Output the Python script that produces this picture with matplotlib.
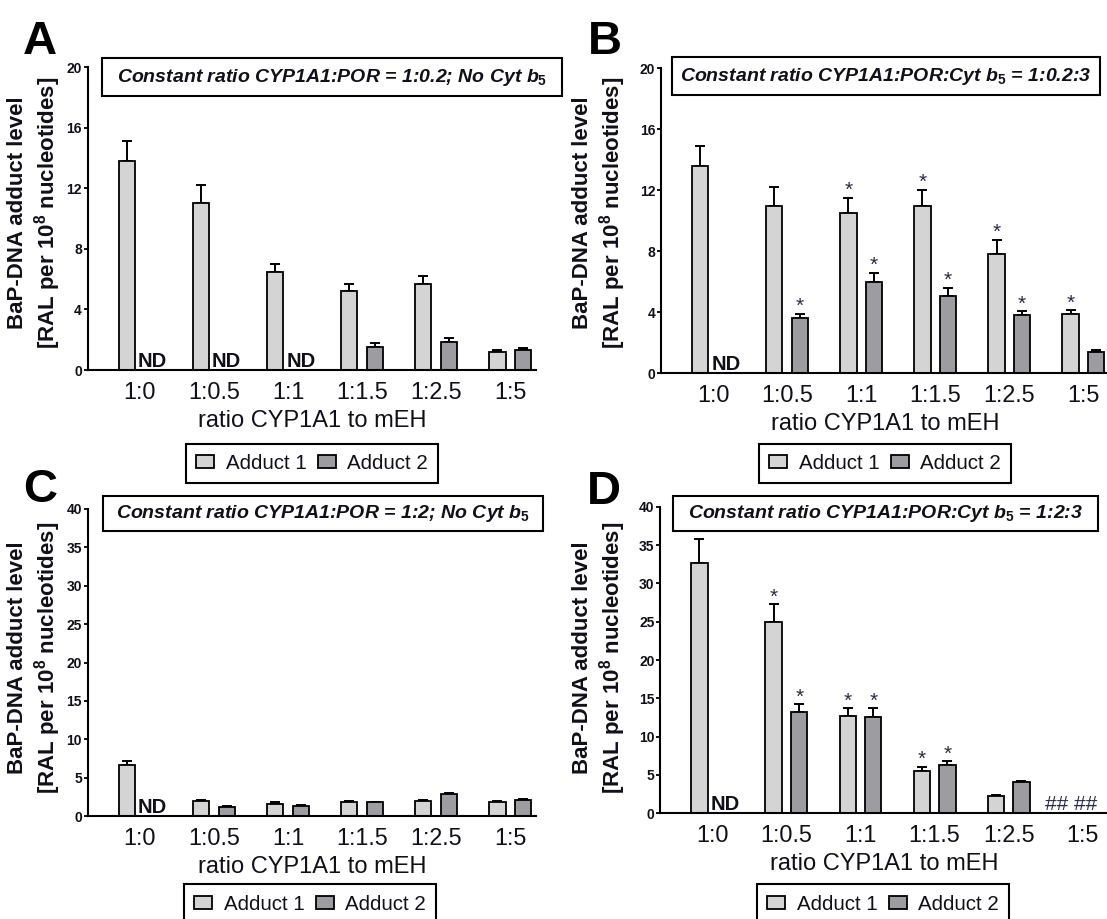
import numpy as np
import matplotlib
matplotlib.use("Agg")
import matplotlib.pyplot as plt
from matplotlib.patches import Rectangle

plt.rcParams['font.family'] = ['Liberation Sans', 'DejaVu Sans']
plt.rcParams['mathtext.fontset'] = 'custom'
plt.rcParams['mathtext.rm'] = 'Liberation Sans:bold'
plt.rcParams['mathtext.it'] = 'Liberation Sans:italic:bold'
plt.rcParams['mathtext.bf'] = 'Liberation Sans:bold'

# ---------------- data ----------------
ratios = ['1:0', '1:0.5', '1:1', '1:1.5', '1:2.5', '1:5']
series_names = ['Adduct 1', 'Adduct 2']
nan = np.nan

# A: CYP1A1:POR = 1:0.2, no Cyt b5
a_add1 = [13.8, 11.0, 6.5, 5.2, 5.7, 1.2]
a_err1 = [1.3, 1.2, 0.5, 0.5, 0.5, 0.1]
a_add2 = [nan, nan, nan, 1.55, 1.85, 1.3]
a_err2 = [0, 0, 0, 0.25, 0.25, 0.12]
a_note2 = ['ND', 'ND', 'ND', '', '', '']
a_star1 = [0, 0, 0, 0, 0, 0]
a_star2 = [0, 0, 0, 0, 0, 0]

# B: CYP1A1:POR:Cyt b5 = 1:0.2:3
b_add1 = [13.6, 11.0, 10.5, 11.0, 7.8, 3.9]
b_err1 = [1.3, 1.2, 1.0, 1.05, 0.95, 0.25]
b_add2 = [nan, 3.65, 6.0, 5.1, 3.8, 1.37]
b_err2 = [0, 0.27, 0.6, 0.5, 0.27, 0.15]
b_note2 = ['ND', '', '', '', '', '']
b_star1 = [0, 0, 1, 1, 1, 1]
b_star2 = [0, 1, 1, 1, 1, 0]

# C: CYP1A1:POR = 1:2, no Cyt b5
c_add1 = [6.65, 2.0, 1.55, 1.85, 2.0, 1.85]
c_err1 = [0.5, 0.05, 0.25, 0.15, 0.05, 0.15]
c_add2 = [nan, 1.2, 1.3, 1.8, 2.85, 2.05]
c_err2 = [0, 0.05, 0.15, 0.05, 0.15, 0.15]
c_note2 = ['ND', '', '', '', '', '']
c_star1 = [0, 0, 0, 0, 0, 0]
c_star2 = [0, 0, 0, 0, 0, 0]

# D: CYP1A1:POR:Cyt b5 = 1:2:3
d_add1 = [32.7, 25.0, 12.7, 5.5, 2.2, nan]
d_err1 = [3.1, 2.3, 1.0, 0.6, 0.25, 0]
d_add2 = [nan, 13.2, 12.5, 6.3, 4.05, nan]
d_err2 = [0, 1.0, 1.2, 0.5, 0.2, 0]
d_note2 = ['ND', '', '', '', '', '']
d_group_note = ['', '', '', '', '', '## ##']
d_star1 = [0, 1, 1, 1, 0, 0]
d_star2 = [0, 1, 1, 1, 0, 0]

titles = [
    'Constant ratio CYP1A1:POR = 1:0.2; No Cyt $b_5$',
    'Constant ratio CYP1A1:POR:Cyt $b_5$ = 1:0.2:3',
    'Constant ratio CYP1A1:POR = 1:2; No Cyt $b_5$',
    'Constant ratio CYP1A1:POR:Cyt $b_5$ = 1:2:3',
]

# ---------------- styling ----------------
W, H = 1107, 919
COL1 = '#d4d4d4'
COL2 = '#9c9ca1'
INK = '#101018'
STAR = '#2a2a44'
BAR_W = 0.22
OFF = 0.173
XLIM = (-0.706, 5.348)

fig = plt.figure(figsize=(W / 100, H / 100), dpi=100)
fig.patch.set_facecolor('white')


def add_axes_px(left, top, right, bottom):
    return fig.add_axes([left / W, 1 - bottom / H, (right - left) / W, (bottom - top) / H])


def frame_px(left, top, right, bottom):
    rect = Rectangle((left / W, 1 - bottom / H), (right - left) / W, (bottom - top) / H,
                     transform=fig.transFigure, fill=False, edgecolor='black',
                     linewidth=1.5, zorder=5)
    fig.add_artist(rect)


def draw_panel(ax, add1, err1, add2, err2, note2, star1, star2, ymax, ystep,
               group_note=None):
    x = np.arange(len(ratios))
    handles = []
    for vals, errs, stars, sign, col, name in [
            (add1, err1, star1, -1, COL1, series_names[0]),
            (add2, err2, star2, 1, COL2, series_names[1])]:
        vals = np.asarray(vals, float)
        errs = np.asarray(errs, float)
        m = ~np.isnan(vals)
        xs = x[m] + sign * OFF
        h = ax.bar(xs, vals[m], BAR_W, color=col, edgecolor='black',
                   linewidth=1.3, zorder=2, label=name)
        handles.append(h)
        ax.errorbar(xs, vals[m], yerr=[np.zeros(m.sum()), errs[m]], fmt='none',
                    ecolor='black', elinewidth=1.4, capsize=3.3, capthick=1.4,
                    zorder=1)
        for xi, v, e, s in zip(xs, vals[m], errs[m], np.asarray(stars)[m]):
            if s:
                ax.annotate('*', xy=(xi, v + e), xytext=(0, 1.2),
                            textcoords='offset points', ha='center',
                            va='baseline', fontsize=15, color=STAR,
                            annotation_clip=False)
    for i, t in enumerate(note2):
        if t:
            ax.annotate(t, xy=(x[i] + OFF, 0), xytext=(0, 2.4),
                        textcoords='offset points', ha='center', va='baseline',
                        fontsize=14.5, fontweight='bold', color=INK)
    if group_note is not None:
        for i, t in enumerate(group_note):
            if t:
                ax.annotate(t, xy=(x[i] - 0.16, 0), xytext=(0, 2.2),
                            textcoords='offset points', ha='center',
                            va='baseline', fontsize=15, color=STAR)

    ax.set_xlim(*XLIM)
    ax.set_ylim(0, ymax)
    ax.set_yticks(np.arange(0, ymax + 0.1, ystep))
    ax.set_yticklabels([f'{int(v)}' for v in np.arange(0, ymax + 0.1, ystep)],
                       fontsize=10, fontweight='bold', color=INK)
    ax.set_xticks(x)
    ax.set_xticklabels(ratios, fontsize=16.8, color=INK)
    ax.tick_params(axis='x', length=0, pad=8)
    ax.tick_params(axis='y', length=3, width=1.3, pad=1, direction='out')
    for s in ('top', 'right'):
        ax.spines[s].set_visible(False)
    for s in ('left', 'bottom'):
        ax.spines[s].set_linewidth(1.5)
    ax.set_facecolor('none')
    ax.set_xlabel('ratio CYP1A1 to mEH', fontsize=17, color=INK)
    ax.xaxis.label.set_va('center')
    return handles


panels = [
    # axes rect (px): left, top, right, bottom
    dict(rect=(87.5, 67.0, 536.0, 370.0), data=(a_add1, a_err1, a_add2, a_err2, a_note2, a_star1, a_star2),
         ymax=20, step=4, gnote=None, letter='A', letter_xy=(23, 53.5),
         ylab_xy=(35, 213), title_box=(101.7, 58.3, 562.0, 95.7), legend_c=(312, 463.5)),
    dict(rect=(660.7, 68.3, 1109.2, 373.3), data=(b_add1, b_err1, b_add2, b_err2, b_note2, b_star1, b_star2),
         ymax=20, step=4, gnote=None, letter='B', letter_xy=(588, 53.5),
         ylab_xy=(600, 213), title_box=(672.3, 57.3, 1100.0, 95.0), legend_c=(885, 463.5)),
    dict(rect=(87.5, 509.0, 536.0, 816.0), data=(c_add1, c_err1, c_add2, c_err2, c_note2, c_star1, c_star2),
         ymax=40, step=5, gnote=None, letter='C', letter_xy=(23, 502),
         ylab_xy=(35, 658), title_box=(102.5, 496.0, 543.0, 531.0), legend_c=(310, 904)),
    dict(rect=(660.0, 506.7, 1108.5, 813.3), data=(d_add1, d_err1, d_add2, d_err2, d_note2, d_star1, d_star2),
         ymax=40, step=5, gnote=d_group_note, letter='D', letter_xy=(587, 503.5),
         ylab_xy=(600, 658), title_box=(673.0, 496.0, 1098.0, 531.0), legend_c=(883, 904)),
]

for p, title in zip(panels, titles):
    ax = add_axes_px(*p['rect'])
    add1, err1, add2, err2, note2, star1, star2 = p['data']
    handles = draw_panel(ax, add1, err1, add2, err2, note2, star1, star2,
                         p['ymax'], p['step'], group_note=p['gnote'])
    axh = p['rect'][3] - p['rect'][1]
    ax.xaxis.set_label_coords(0.5, -51 / axh)

    # panel letter
    lx, ly = p['letter_xy']
    fig.text(lx / W, 1 - ly / H, p['letter'], fontsize=34, fontweight='bold',
             ha='left', va='baseline', color='black')

    # y-axis title
    yx, yy = p['ylab_xy']
    fig.text(yx / W, 1 - yy / H,
             'BaP-DNA adduct level\n[RAL per 10$^{8}$ nucleotides]',
             rotation=90, ha='center', va='center', multialignment='center',
             fontsize=16, fontweight='bold', color=INK, linespacing=1.15)

    # condition box
    l, t, r, b = p['title_box']
    frame_px(l, t, r, b)
    fig.text((l + r) / 2 / W, 1 - (t + b) / 2 / H, title, fontsize=14,
             fontweight='bold', style='italic', ha='center', va='center',
             color=INK)

    # legend
    cx, cy = p['legend_c']
    leg = ax.legend(handles=handles, labels=series_names, loc='center',
                    bbox_to_anchor=(cx / W, 1 - cy / H),
                    bbox_transform=fig.transFigure, ncol=2, frameon=True,
                    fancybox=False, edgecolor='black', fontsize=14.8,
                    handlelength=0.88, handleheight=0.63, handletextpad=0.57,
                    columnspacing=0.55, borderpad=0.5, framealpha=1)
    leg.get_frame().set_linewidth(1.5)
    for txt in leg.get_texts():
        txt.set_color(INK)

fig.savefig('out.png', dpi=100)
